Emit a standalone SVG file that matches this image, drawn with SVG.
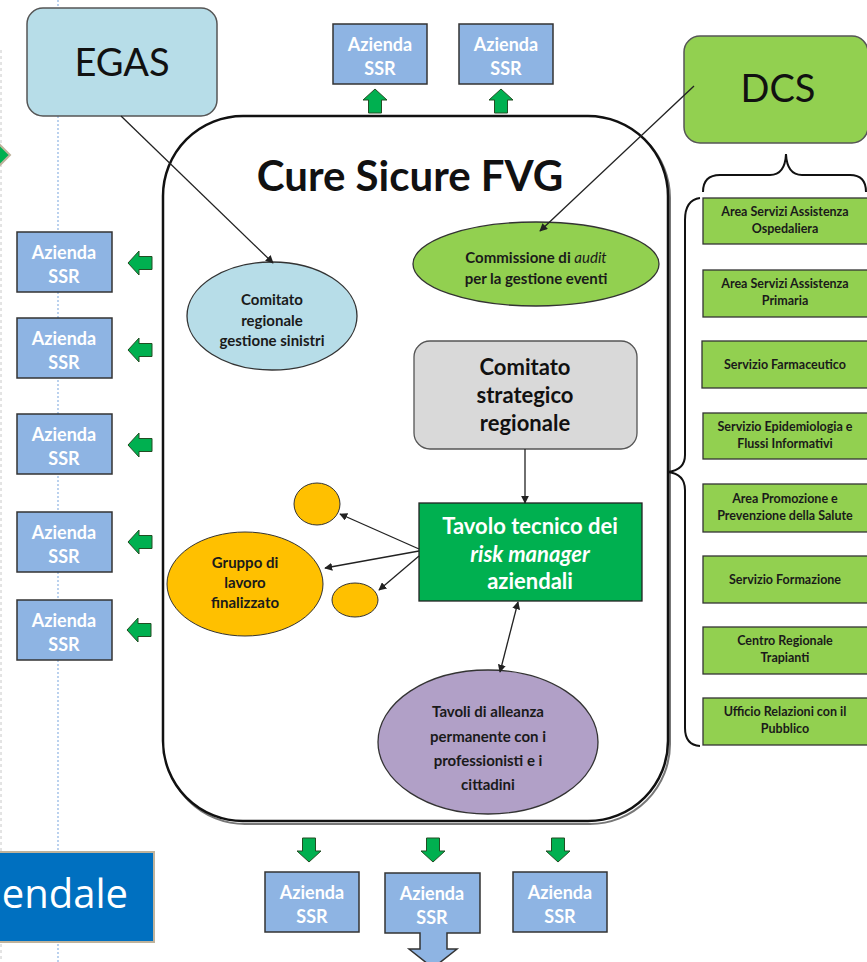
<svg xmlns="http://www.w3.org/2000/svg" width="867" height="962" viewBox="0 0 867 962">
<defs>
<style>
.az{fill:#8EB4E3;stroke:#333;stroke-width:1.5}
.azt{font-family:Lato,"Open Sans",sans-serif;font-weight:bold;font-size:18px;fill:#fff;text-anchor:middle}
.gb{fill:#92D050;stroke:#333;stroke-width:1.3}
.gbt{font-family:Lato,"Open Sans",sans-serif;font-weight:bold;font-size:12.5px;fill:#1a1a1a;text-anchor:middle}
.ga{fill:#00B050;stroke:#234d23;stroke-width:1}
.ln{stroke:#222;stroke-width:1.3;fill:none}
.t13{font-family:Lato,"Open Sans",sans-serif;font-weight:bold;font-size:15px;fill:#1a1a1a;text-anchor:middle}
.t20{font-family:Lato,"Open Sans",sans-serif;font-weight:bold;font-size:22px;text-anchor:middle}
</style>
<marker id="ah" viewBox="0 0 10 10" refX="9" refY="5" markerWidth="8" markerHeight="8" orient="auto-start-reverse" markerUnits="userSpaceOnUse">
<path d="M0,0 L10,5 L0,10 z" fill="#222"/>
</marker>
<polygon id="garrow" points="0,-12 12,-1 6.5,-1 6.5,12 -6.5,12 -6.5,-1 -12,-1"/>
</defs>
<rect width="867" height="962" fill="#fff"/>
<!-- background guide lines -->
<line x1="1" y1="50" x2="1" y2="962" stroke="#c8c8c8" stroke-width="1" stroke-dasharray="3,3"/>
<line x1="58" y1="0" x2="58" y2="962" stroke="#8EB4E3" stroke-width="1.2" stroke-dasharray="2,2"/>
<polygon points="-2,143 10,155 -2,167 -14,155" fill="#00B050" stroke="#BFB39C" stroke-width="2"/>

<!-- main container -->
<g id="cure-sicure">
<rect x="165" y="118" width="505" height="706" rx="80" fill="none" stroke="#777" stroke-width="2"/>
<rect x="163" y="116" width="505" height="705" rx="80" fill="#fff" stroke="#111" stroke-width="2.5"/>
<text x="410" y="191" font-family="Lato,'Open Sans',sans-serif" font-weight="bold" font-size="42" text-anchor="middle" fill="#111">Cure Sicure FVG</text>
</g>

<g id="egas">
<rect x="27" y="8" width="190" height="108" rx="16" fill="#B7DDE8" stroke="#555" stroke-width="1.5"/>
<text x="122" y="76" font-family="Lato,'Open Sans',sans-serif" font-size="38" text-anchor="middle" fill="#111">EGAS</text>
</g>

<g id="dcs">
<rect x="684" y="36" width="184" height="107" rx="16" fill="#92D050" stroke="#555" stroke-width="1.5"/>
<text x="778" y="102" font-family="Lato,'Open Sans',sans-serif" font-size="38" text-anchor="middle" fill="#111">DCS</text>
</g>

<g id="brace-top"><path d="M703,192 Q703,175 720,175 H770 Q785,175 786,154 Q787,175 802,175 H850 Q866,175 866,192" fill="none" stroke="#111" stroke-width="2"/></g>
<g id="brace-right"><path d="M700,198 Q685,200 685,220 V455 Q685,470 668,472 Q685,474 685,490 V728 Q685,745 700,746" fill="none" stroke="#111" stroke-width="2"/></g>

<!-- top azienda -->
<g id="az-top1"><rect class="az" x="333" y="24" width="94" height="60"/><text class="azt" x="380" y="51">Azienda</text><text class="azt" x="380" y="75">SSR</text></g>
<g id="az-top2"><rect class="az" x="459" y="24" width="94" height="60"/><text class="azt" x="506" y="51">Azienda</text><text class="azt" x="506" y="75">SSR</text></g>

<!-- left azienda -->
<g id="az-l1"><rect class="az" x="17" y="232" width="95" height="60"/><text class="azt" x="64" y="259">Azienda</text><text class="azt" x="64" y="283">SSR</text></g>
<g id="az-l2"><rect class="az" x="17" y="318" width="95" height="60"/><text class="azt" x="64" y="345">Azienda</text><text class="azt" x="64" y="369">SSR</text></g>
<g id="az-l3"><rect class="az" x="17" y="414" width="95" height="60"/><text class="azt" x="64" y="441">Azienda</text><text class="azt" x="64" y="465">SSR</text></g>
<g id="az-l4"><rect class="az" x="17" y="512" width="95" height="60"/><text class="azt" x="64" y="539">Azienda</text><text class="azt" x="64" y="563">SSR</text></g>
<g id="az-l5"><rect class="az" x="17" y="600" width="95" height="60"/><text class="azt" x="64" y="627">Azienda</text><text class="azt" x="64" y="651">SSR</text></g>

<!-- bottom azienda -->
<g id="az-b1"><rect class="az" x="265" y="872" width="94" height="60"/><text class="azt" x="312" y="899">Azienda</text><text class="azt" x="312" y="923">SSR</text></g>
<g id="az-b2"><path class="az" d="M385,873 H480 V933 H447 V949 H457 L433,968 L409,949 H420 V933 H385 Z"/><text class="azt" x="432" y="900">Azienda</text><text class="azt" x="432" y="924">SSR</text></g>
<g id="az-b3"><rect class="az" x="513" y="872" width="94" height="60"/><text class="azt" x="560" y="899">Azienda</text><text class="azt" x="560" y="923">SSR</text></g>

<!-- green block arrows -->
<g id="green-arrows">
<use href="#garrow" class="ga" transform="translate(375,101)"/>
<use href="#garrow" class="ga" transform="translate(501,101)"/>
<use href="#garrow" class="ga" transform="translate(140,263) rotate(-90)"/>
<use href="#garrow" class="ga" transform="translate(140,350) rotate(-90)"/>
<use href="#garrow" class="ga" transform="translate(140,445) rotate(-90)"/>
<use href="#garrow" class="ga" transform="translate(140,542) rotate(-90)"/>
<use href="#garrow" class="ga" transform="translate(139,630) rotate(-90)"/>
<use href="#garrow" class="ga" transform="translate(309,850) rotate(180)"/>
<use href="#garrow" class="ga" transform="translate(433,850) rotate(180)"/>
<use href="#garrow" class="ga" transform="translate(558,850) rotate(180)"/>
</g>

<g id="aziendale">
<rect x="-10" y="852" width="164" height="90" fill="#0070C0" stroke="#BFB39C" stroke-width="2"/>
<text x="128" y="908" font-family="'Open Sans',Lato,sans-serif" font-size="40" fill="#fff" text-anchor="end">endale</text>
</g>

<!-- inner nodes -->
<g id="comitato-sinistri">
<ellipse cx="272" cy="316" rx="85" ry="54" fill="#B7DDE8" stroke="#333" stroke-width="1.3"/>
<text class="t13" x="272" y="305">Comitato</text><text class="t13" x="272" y="326">regionale</text><text class="t13" x="272" y="346">gestione sinistri</text>
</g>
<g id="commissione-audit">
<ellipse cx="536" cy="264" rx="123" ry="42" fill="#92D050" stroke="#333" stroke-width="1.3"/>
<text class="t13" x="536" y="263">Commissione di <tspan font-style="italic" font-weight="normal">audit</tspan></text><text class="t13" x="536" y="284">per la gestione eventi</text>
</g>
<g id="comitato-strategico">
<rect x="414" y="341" width="223" height="108" rx="16" fill="#D9D9D9" stroke="#555" stroke-width="1.3"/>
<text class="t20" x="525" y="375" fill="#111">Comitato</text><text class="t20" x="525" y="403" fill="#111">strategico</text><text class="t20" x="525" y="431" fill="#111">regionale</text>
</g>
<g id="tavolo-tecnico">
<rect x="419" y="503" width="223" height="98" fill="#00B050" stroke="#222" stroke-width="1.3"/>
<text class="t20" x="530" y="534" fill="#fff">Tavolo tecnico dei</text>
<text class="t20" x="530" y="562" fill="#fff" font-style="italic">risk manager</text>
<text class="t20" x="530" y="589" fill="#fff">aziendali</text>
</g>
<g id="gruppo-small1"><ellipse cx="317" cy="504" rx="23" ry="21" fill="#FFC000" stroke="#333" stroke-width="1"/></g>
<g id="gruppo-lavoro">
<ellipse cx="245" cy="584" rx="78" ry="52" fill="#FFC000" stroke="#333" stroke-width="1"/>
<text class="t13" x="245" y="568">Gruppo di</text><text class="t13" x="245" y="588">lavoro</text><text class="t13" x="245" y="608">finalizzato</text>
</g>
<g id="gruppo-small2"><ellipse cx="355" cy="600" rx="23" ry="17" fill="#FFC000" stroke="#333" stroke-width="1"/></g>
<g id="tavoli-alleanza">
<ellipse cx="488" cy="742" rx="110" ry="72" fill="#B1A0C7" stroke="#333" stroke-width="1.3"/>
<text class="t13" x="488" y="717">Tavoli di alleanza</text><text class="t13" x="488" y="742">permanente con i</text><text class="t13" x="488" y="766">professionisti e i</text><text class="t13" x="488" y="790">cittadini</text>
</g>

<!-- right green boxes -->
<g id="r1"><rect class="gb" x="703" y="198" width="170" height="46"/><text class="gbt" x="785" y="216">Area Servizi Assistenza</text><text class="gbt" x="785" y="233">Ospedaliera</text></g>
<g id="r2"><rect class="gb" x="703" y="270" width="170" height="47"/><text class="gbt" x="785" y="288">Area Servizi Assistenza</text><text class="gbt" x="785" y="305">Primaria</text></g>
<g id="r3"><rect class="gb" x="702" y="341" width="170" height="47"/><text class="gbt" x="785" y="369">Servizio Farmaceutico</text></g>
<g id="r4"><rect class="gb" x="703" y="413" width="170" height="46"/><text class="gbt" x="785" y="431">Servizio Epidemiologia e</text><text class="gbt" x="785" y="448">Flussi Informativi</text></g>
<g id="r5"><rect class="gb" x="703" y="484" width="170" height="48"/><text class="gbt" x="785" y="503">Area Promozione e</text><text class="gbt" x="785" y="520">Prevenzione della Salute</text></g>
<g id="r6"><rect class="gb" x="703" y="556" width="170" height="47"/><text class="gbt" x="785" y="584">Servizio Formazione</text></g>
<g id="r7"><rect class="gb" x="703" y="627" width="170" height="47"/><text class="gbt" x="785" y="645">Centro Regionale</text><text class="gbt" x="785" y="662">Trapianti</text></g>
<g id="r8"><rect class="gb" x="703" y="698" width="170" height="47"/><text class="gbt" x="785" y="716">Ufficio Relazioni con il</text><text class="gbt" x="785" y="733">Pubblico</text></g>

<!-- connectors -->
<g id="connectors">
<line class="ln" x1="121" y1="116" x2="273" y2="263" marker-end="url(#ah)"/>
<line class="ln" x1="694" y1="86" x2="540" y2="231" marker-end="url(#ah)"/>
<line class="ln" x1="525" y1="449" x2="525" y2="503" marker-end="url(#ah)"/>
<line class="ln" x1="419" y1="549" x2="340" y2="514" marker-end="url(#ah)"/>
<line class="ln" x1="419" y1="551" x2="325" y2="568" marker-end="url(#ah)"/>
<line class="ln" x1="419" y1="556" x2="379" y2="590" marker-end="url(#ah)"/>
<line class="ln" x1="500" y1="672" x2="518" y2="602" marker-start="url(#ah)" marker-end="url(#ah)"/>
</g>
</svg>
